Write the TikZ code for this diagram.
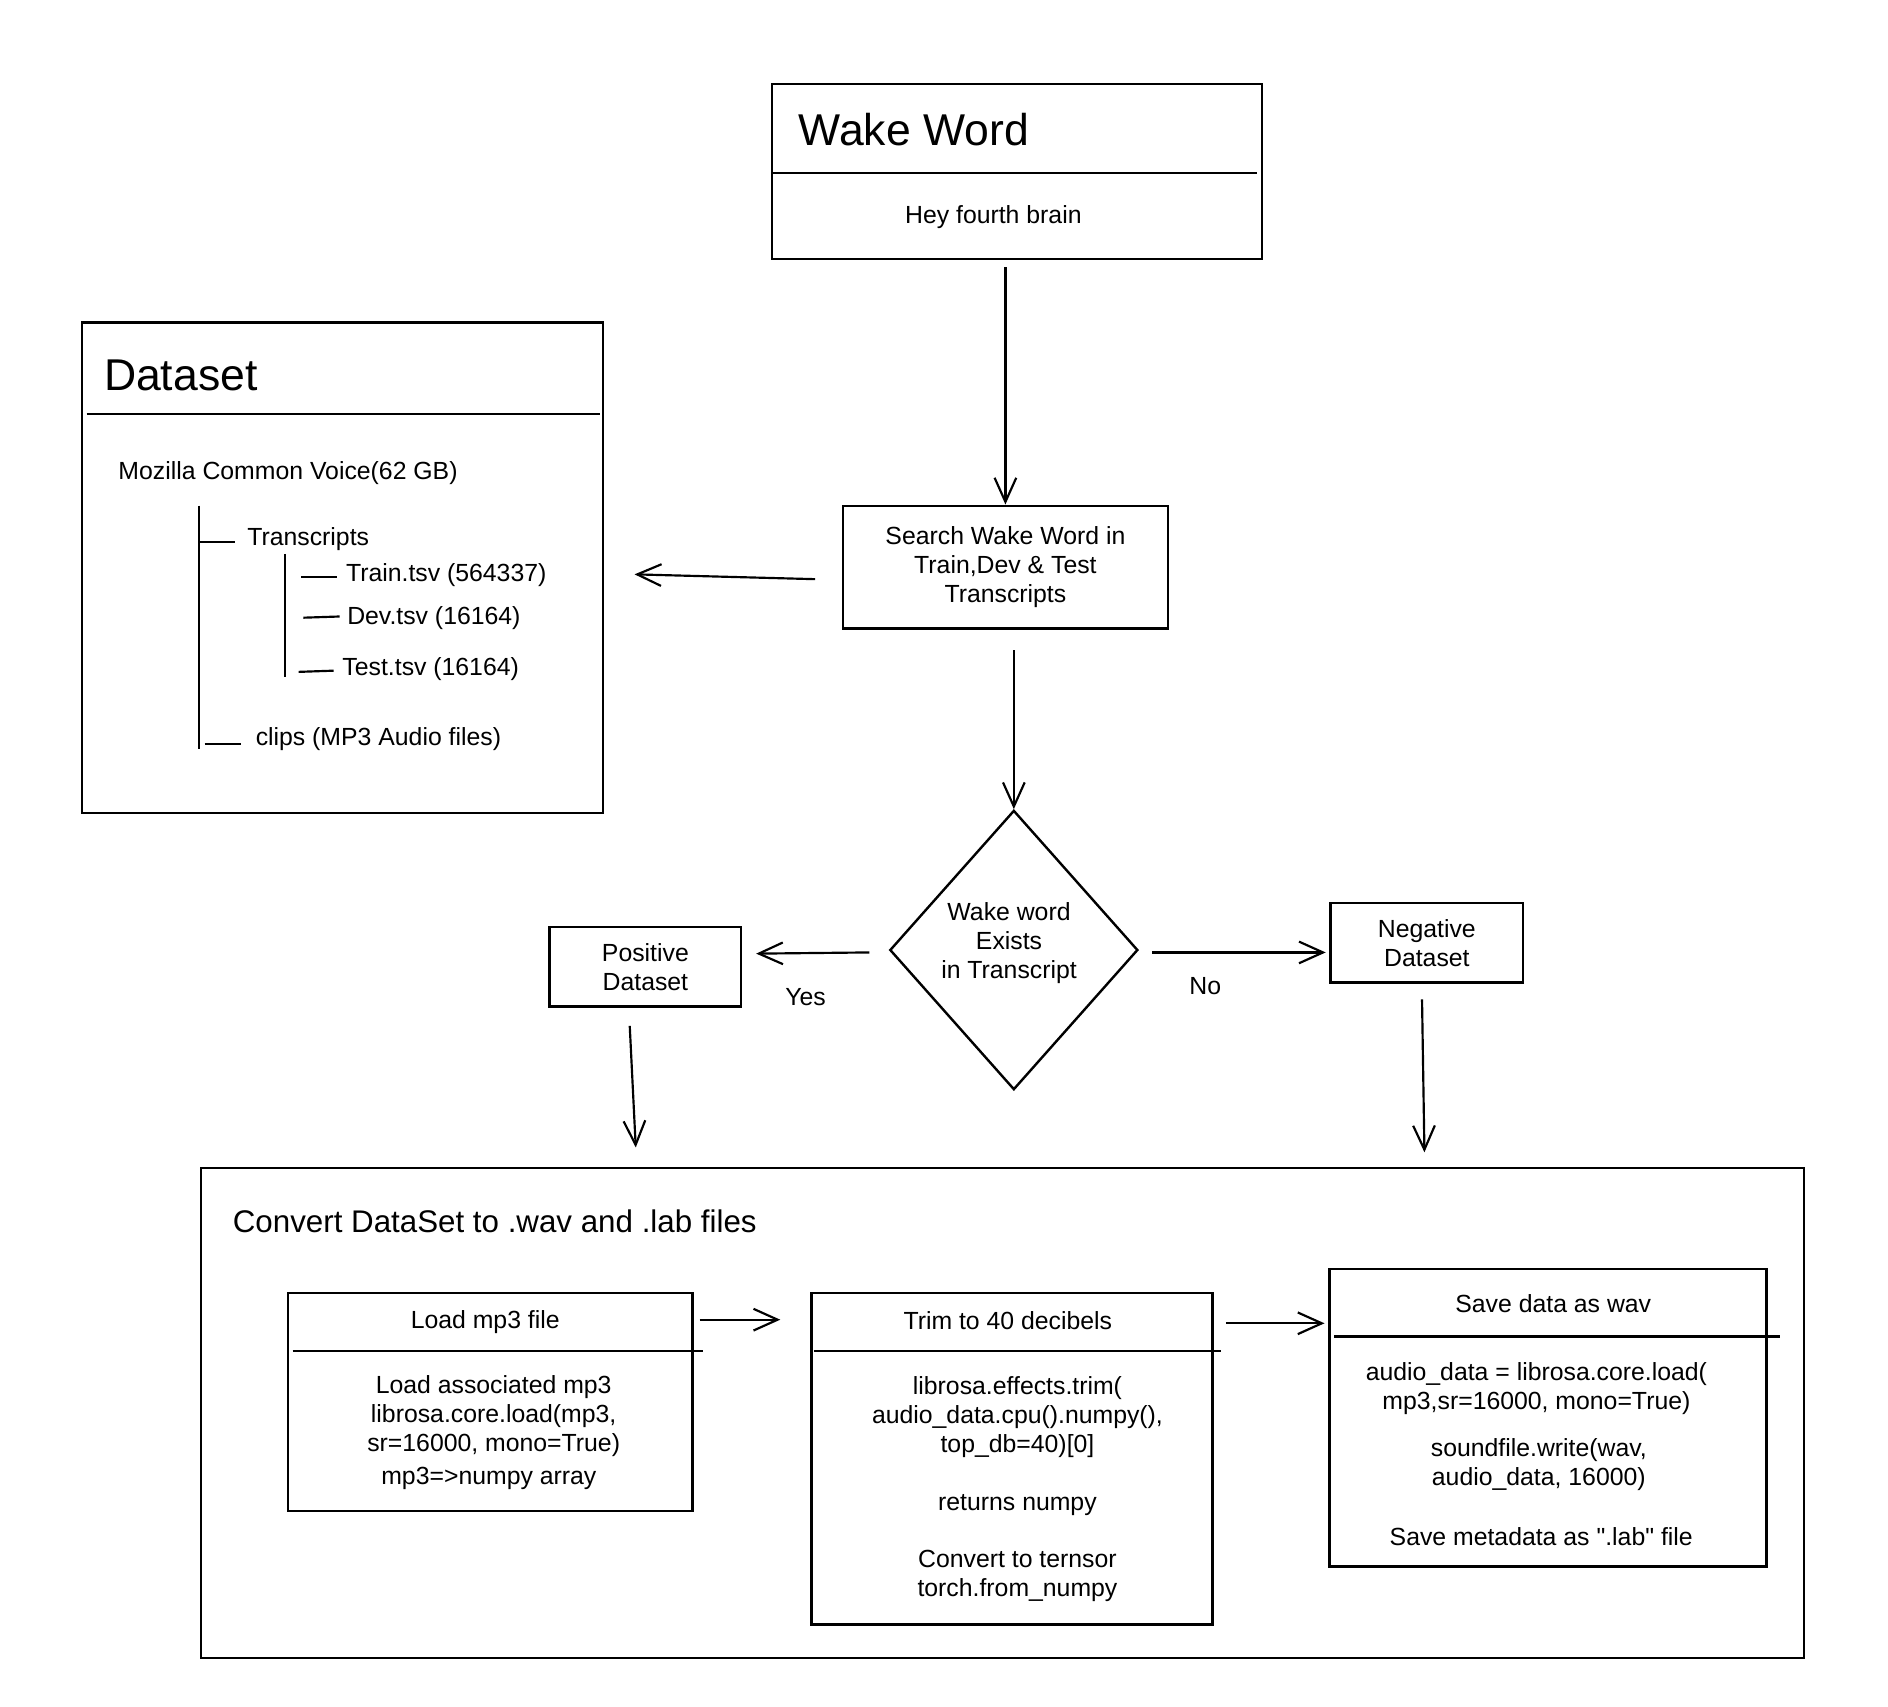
\documentclass[tikz,border=0pt]{standalone}
\usepackage{fontspec}
\setmainfont{Liberation Sans}
\usetikzlibrary{arrows.meta,shapes.geometric}
\begin{document}
\begin{tikzpicture}[x=0.5pt,y=-0.5pt,
  box/.style={draw,line width=1pt},
  txt/.style={align=center,font=\fontsize{10.3}{12}\selectfont,inner sep=0},
  ltxt/.style={anchor=west,font=\fontsize{10.3}{12}\selectfont,inner sep=0},
  arr/.style={line width=0.9pt,-{Straight Barb[length=10pt,width=9pt]}},
  line/.style={line width=0.9pt}]
\useasboundingbox (0,0) rectangle (1568,1417);
% Wake word
\draw[box] (641,70) rectangle (1048,215);
\draw[line] (641,144) -- (1044,144);
\node[anchor=west,inner sep=0,font=\fontsize{18.5}{20}\selectfont] (ww) at (663,108) {Wake Word};
\node[txt] (hey) at (825,180) {Hey fourth brain};
\coordinate (wwb) at (835,222);
% Search
\node[box,minimum width=135pt,minimum height=51pt,txt] (search) at (835,471) {Search Wake Word in\\Train,Dev \& Test\\Transcripts};
% Dataset
\draw[box] (68,268) rectangle (501,675);
\draw[line] (72,344) -- (498,344);
\node[anchor=west,inner sep=0,font=\fontsize{18.5}{20}\selectfont] at (86,312) {Dataset};
\coordinate (dsr) at (527,477);
\coordinate (sl) at (677,481);
\node[ltxt] at (98,393) {Mozilla Common Voice(62 GB)};
\draw[line] (165,420) -- (165,622);
\draw[line] (165,450) -- (195,450);
\node[ltxt] at (205,448) {Transcripts};
\draw[line] (237,460) -- (237,562);
\draw[line] (250,479) -- (280,479);
\node[ltxt] at (287,478) {Train.tsv (564337)};
\draw[line] (252,513) -- (282,512);
\node[ltxt] at (288,513) {Dev.tsv (16164)};
\draw[line] (248,558) -- (277,557);
\node[ltxt] at (284,556) {Test.tsv (16164)};
\draw[line] (170,618) -- (200,618);
\node[ltxt] at (212,614) {clips (MP3 Audio files)};
% diamond
\node[draw,line width=1pt,diamond,minimum width=103pt,minimum height=116pt,inner sep=0] (dia) at (842,789) {};
\node[txt] at (838,783) {Wake word\\Exists\\in Transcript};
\node[box,minimum width=79.5pt,minimum height=33pt,txt] (pos) at (536,803) {Positive\\Dataset};
\node[box,minimum width=80pt,minimum height=33pt,txt] (neg) at (1185,783) {Negative\\Dataset};
\node[txt] at (669,828) {Yes};
\node[txt] at (1001,819) {No};
% Convert
\node[box,minimum width=665.5pt,minimum height=203.5pt,inner sep=0] (conv) at (832.5,1173.5) {};
\node[anchor=west,inner sep=0,font=\fontsize{13}{15}\selectfont] at (193,1014) {Convert DataSet to .wav and .lab files};
\node[box,minimum width=168pt,minimum height=90.5pt,inner sep=0] (load) at (407,1164.5) {};
\draw[line] (243,1122) -- (584,1122);
\node[txt] at (403,1098) {Load mp3 file};
\node[txt] at (410,1176) {Load associated mp3\\librosa.core.load(mp3,\\sr=16000, mono=True)};
\node[txt] at (406,1228) {mp3=>numpy array};
\node[box,minimum width=166.5pt,minimum height=137.5pt,inner sep=0] (trim) at (840.5,1211.5) {};
\draw[line] (676,1122) -- (1014,1122);
\node[txt] at (837,1097) {Trim to 40 decibels};
\node[txt] at (845,1177) {librosa.effects.trim(\\audio\_data.cpu().numpy(),\\top\_db=40)[0]};
\node[txt] at (845,1250) {returns numpy};
\node[txt] at (845,1309) {Convert to ternsor\\torch.from\_numpy};
\node[box,minimum width=181.5pt,minimum height=123.5pt,inner sep=0] (save) at (1285.5,1177.5) {};
\draw[line] (1108,1110) -- (1478,1110);
\node[txt] at (1290,1083) {Save data as wav};
\node[txt] at (1276,1153) {audio\_data = librosa.core.load(\\mp3,sr=16000, mono=True)};
\node[txt] at (1278,1216) {soundfile.write(wav,\\audio\_data, 16000)};
\node[txt] at (1280,1276) {Save metadata as \textquotedbl.lab\textquotedbl\ file};
% arrows
\draw[arr] (wwb) -- (search.north);
\draw[arr] (sl) -- (dsr);
\coordinate (s1) at (842,540);
\draw[arr] (s1) -- (dia.north);
\coordinate (y1) at (722,791); \coordinate (y2) at (628,792);
\draw[arr] (y1) -- (y2);
\coordinate (n0) at (957,791); \coordinate (n2) at (1101,791);
\draw[arr] (n0) -- (n2);
\coordinate (p0) at (523,852); \coordinate (p1) at (528,953);
\coordinate (q0) at (1181,830); \coordinate (n1) at (1183,957);
\draw[arr] (p0) -- (p1);
\draw[arr] (q0) -- (n1);
\coordinate (la) at (581,1096); \coordinate (lb) at (648,1096);
\draw[arr] (la) -- (lb);
\coordinate (ta) at (1018,1099); \coordinate (tb) at (1100,1099);
\draw[arr] (ta) -- (tb);
\end{tikzpicture}
\end{document}
